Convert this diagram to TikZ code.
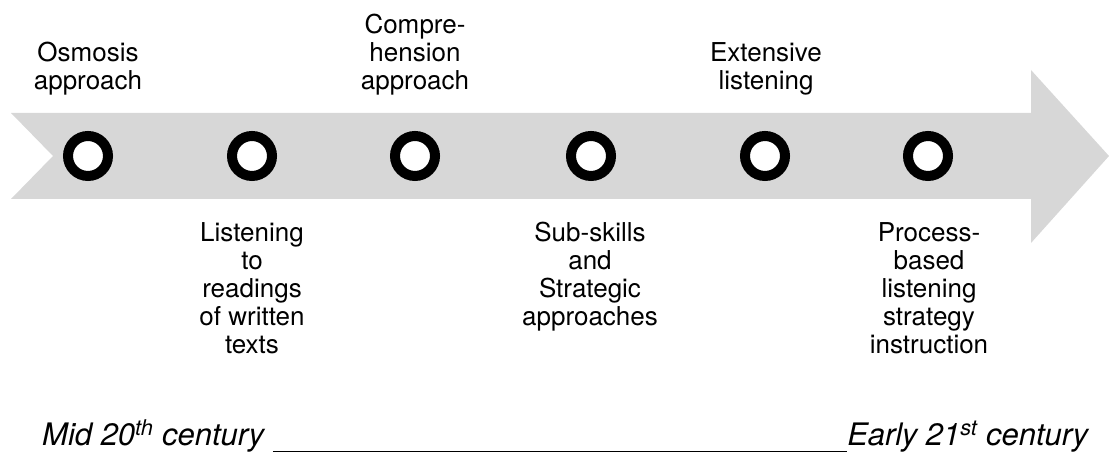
\documentclass[tikz,border=0pt]{standalone}
\usepackage{fontspec}
\setmainfont{TeX Gyre Heros}
\usepackage{tikz}
\usetikzlibrary{shadows}
\definecolor{bandgray}{RGB}{215,215,215}

\begin{document}
\begin{tikzpicture}[x=1pt,y=-1pt]
        \tikzstyle{every node}+=[inner sep=0pt, align=center, font=\fontsize{26}{28}\selectfont]
        \tikzstyle{stage}=[circle, draw=black, line width=10pt, fill=white, minimum size=40pt,
          drop shadow={shadow xshift=0pt, shadow yshift=-3pt, opacity=0.2}]
        \useasboundingbox (0,0) rectangle (1109,454);
        % the band
        \fill [bandgray] (11,113) -- (1031,113) -- (1031,70) -- (1109,156) -- (1031,243)
          -- (1031,199) -- (11,199) -- (53,156) -- cycle;
        % stages
        \node [stage] (osmosis) at (88,156) {};
        \node [stage] (readings) at (252,156) {};
        \node [stage] (compre) at (415,156) {};
        \node [stage] (subskills) at (591,156) {};
        \node [stage] (extensive) at (765,156) {};
        \node [stage] (process) at (928,156) {};
        % labels above
        \node [anchor=south] (osmosislbl) at (88,95.5) {Osmosis\\approach};
        \node [anchor=south] (comprelbl) at (415,95.5) {Compre-\\hension\\approach};
        \node [anchor=south] (extensivelbl) at (766,95.5) {Extensive\\listening};
        % labels below
        \node [anchor=north] (readingslbl) at (252,222) {Listening\\to\\readings\\of written\\texts};
        \node [anchor=north] (subskillslbl) at (590,222) {Sub-skills\\and\\Strategic\\approaches};
        \node [anchor=north] (processlbl) at (929,222) {Process-\\based\\listening\\strategy\\instruction};
        % time line
        \node [anchor=base west, font=\fontsize{31}{33}\selectfont\itshape] (era) at (42,445)
          {\hbox to 1046pt{Mid 20\textsuperscript{th} century\ \leaders\hrule height -6pt depth 7.3pt\hfill Early 21\textsuperscript{st} century}};
\end{tikzpicture}
\end{document}
